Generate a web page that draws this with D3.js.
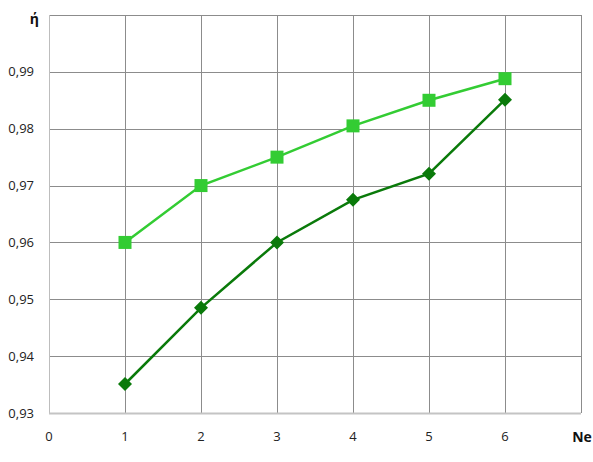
<!DOCTYPE html>
<html><head><meta charset="utf-8">
<script src="https://cdn.jsdelivr.net/npm/d3@7"></script>
<style>body{margin:0;background:#fff;}svg{display:block;font-family:"Open Sans","Liberation Sans",sans-serif;}</style>
</head><body>
<svg id="c" width="593" height="462"></svg>
<script>
const xCats = [1, 2, 3, 4, 5, 6];
const seriesUpper = [0.960, 0.970, 0.975, 0.9805, 0.985, 0.9888];
const seriesLower = [0.9351, 0.9485, 0.960, 0.9675, 0.9721, 0.9851];
const xTicks = [0, 1, 2, 3, 4, 5, 6];
const yTicks = [0.93, 0.94, 0.95, 0.96, 0.97, 0.98, 0.99];

const svg = d3.select("#c");
const L = 49, R = 581, T = 15, B = 413;
const x = d3.scaleLinear().domain([0, 7]).range([L, R]);
const y = d3.scaleLinear().domain([0.93, 1.0]).range([B, T]);
const fmt = d => d3.format(".2f")(d).replace(".", ",");

// grid
const g = svg.append("g");
g.selectAll("line.h").data(yTicks.concat([1.0]).filter(d => d > 0.93)).enter().append("line")
  .attr("x1", L).attr("x2", R).attr("y1", d => Math.round(y(d)) + 0.5).attr("y2", d => Math.round(y(d)) + 0.5)
  .attr("stroke", "#8c8c8c").attr("stroke-width", 1);
g.selectAll("line.v").data(xTicks.concat([7])).enter().append("line")
  .attr("y1", T).attr("y2", B).attr("x1", d => Math.round(x(d)) + 0.5).attr("x2", d => Math.round(x(d)) + 0.5)
  .attr("stroke", d => d === 0 ? "#bdbdbd" : "#8c8c8c").attr("stroke-width", 1);
// bottom axis
svg.append("line").attr("x1", L).attr("x2", R).attr("y1", B + 0.5).attr("y2", B + 0.5)
  .attr("stroke", "#c4c4c4").attr("stroke-width", 2);

// tick labels
svg.selectAll("text.yt").data(yTicks).enter().append("text")
  .attr("x", 34).attr("y", d => y(d) + 4.5).attr("text-anchor", "end")
  .attr("font-size", 13).attr("fill", "#222").text(fmt);
svg.selectAll("text.xt").data(xTicks).enter().append("text")
  .attr("x", d => x(d)).attr("y", 441).attr("text-anchor", "middle")
  .attr("font-size", 13).attr("fill", "#222").text(d => d);
svg.append("text").attr("x", 39).attr("y", 24).attr("text-anchor", "end")
  .attr("font-size", 14).attr("font-weight", "bold").attr("fill", "#111").text("ή");
svg.append("text").attr("x", 582).attr("y", 442).attr("text-anchor", "middle")
  .attr("font-size", 14).attr("font-weight", "bold").attr("fill", "#111").text("Ne");

const line = d3.line().x((d, i) => x(xCats[i])).y(d => y(d));
svg.append("path").datum(seriesUpper).attr("d", line).attr("fill", "none")
  .attr("stroke", "#33cc33").attr("stroke-width", 2.5);
svg.append("path").datum(seriesLower).attr("d", line).attr("fill", "none")
  .attr("stroke", "#0a7a0a").attr("stroke-width", 2.5);

svg.selectAll("rect.m").data(seriesUpper).enter().append("rect")
  .attr("x", (d, i) => x(xCats[i]) - 6.5).attr("y", d => y(d) - 6.5)
  .attr("width", 13).attr("height", 13).attr("fill", "#33cc33");
svg.selectAll("path.dm").data(seriesLower).enter().append("path")
  .attr("d", "M0,-7L7,0L0,7L-7,0Z")
  .attr("transform", (d, i) => `translate(${x(xCats[i])},${y(d)})`)
  .attr("fill", "#0a7a0a");
</script>
</body></html>
